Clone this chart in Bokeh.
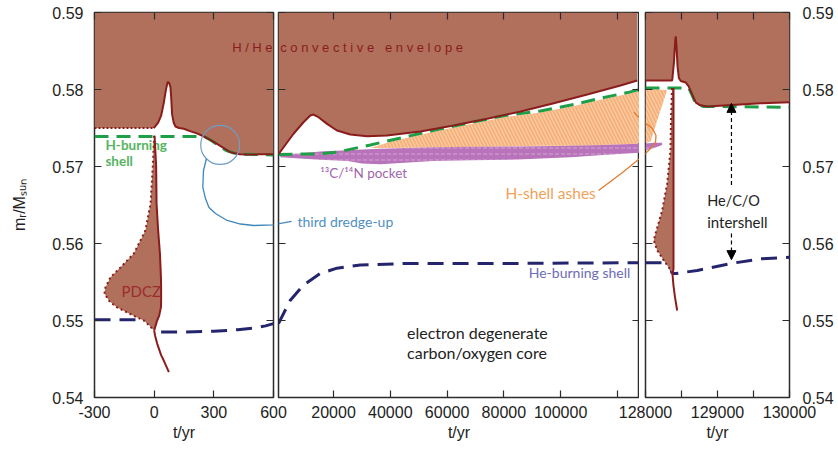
from bokeh.plotting import figure
from bokeh.layouts import row
from bokeh.models import Range1d, FixedTicker, LinearAxis, PrintfTickFormatter, Arrow, NormalHead
from bokeh.embed import file_html
from bokeh.resources import INLINE
from bokeh.core.properties import value

SP = "\u00a0"

# ---------------- axes ----------------
y_min, y_max = 0.54, 0.59
y_ticks = [0.54, 0.55, 0.56, 0.57, 0.58, 0.59]
p1_range = (-300, 600)
p2_range = (600, 127800)
p3_range = (128000, 130000)
p1_xticks = [-300, 0, 300, 600]
p2_xticks = [20000, 40000, 60000, 80000, 100000, 120000]
p3_xticks = [128000, 128500, 129000, 129500, 130000]
p2_tick_overrides = {120000: ""}
p3_tick_overrides = {128500: "", 129500: ""}
x_label = "t/yr"
y_label = "mᵣ/Mₛᵤₙ"

# ---------------- panel 1 : first thermal pulse ----------------
env1_t = [-300, -3, 5, 20, 35, 48, 58, 66, 70, 76, 82, 86, 90, 98, 107, 125, 149, 180, 215, 250,
          280, 300, 330, 350, 380, 400, 430, 470, 530, 600]
env1_m = [0.5750, 0.5750, 0.5752, 0.5757, 0.5766, 0.5782, 0.5798, 0.5808, 0.5810, 0.5808, 0.5803,
          0.5788, 0.5768, 0.5757, 0.5752, 0.5750, 0.5749, 0.5746, 0.5743, 0.5739,
          0.5735, 0.5732, 0.5727, 0.5724, 0.5719, 0.57175, 0.5716, 0.57155, 0.57158, 0.5716]
h1_t = [-300, 250, 280, 320, 360, 400, 440, 600]
h1_m = [0.5739, 0.5739, 0.5735, 0.5728, 0.5721, 0.57175, 0.5716, 0.5715]
he1_t = [-300, -15, 2, 10, 150, 300, 420, 500, 560, 600]
he1_m = [0.5501, 0.5501, 0.5488, 0.5485, 0.5485, 0.5486, 0.5488, 0.5490, 0.5493, 0.5496]
pd1_m = [0.5740, 0.5700, 0.5652, 0.5617, 0.5587, 0.5569, 0.5556, 0.5543, 0.5535, 0.5525,
         0.5517, 0.5506, 0.5500, 0.5494, 0.5487]
pd1_left = [0, -7, -18, -44, -102, -169, -220, -245, -250, -225, -186, -102, -52, -27, 0]
pd1_right = [2, 10, 12, 20, 29, 32, 34, 35, 35, 35, 34, 25, 15, 8, 0]
tail1_t = [0, 5, 15, 35, 50, 74]
tail1_m = [0.5487, 0.5480, 0.5470, 0.5455, 0.5447, 0.5433]
circle_t, circle_m = [332], [0.5728]
tdu1_t = [263, 248, 244.5, 258, 275, 308, 367, 434, 501, 600, 630]
tdu1_m = [0.57104, 0.56948, 0.56731, 0.56584, 0.56471, 0.56390, 0.56299, 0.56253, 0.56234, 0.56243, 0.56246]

# ---------------- panel 2 : interpulse ----------------
env2_t = [600, 2400, 5900, 9400, 11800, 12900, 14700, 17700, 21200, 25900, 31800, 38800, 50600,
          62300, 74100, 85900, 97600, 109400, 121100, 127000]
env2_m = [0.5716, 0.5725, 0.57425, 0.57575, 0.57662, 0.57675, 0.5764, 0.57554, 0.57468, 0.57416,
          0.57394, 0.57403, 0.57455, 0.57532, 0.5762, 0.57714, 0.57822, 0.57935, 0.58052, 0.58117]
h2_t = [600, 15000, 21200, 33000, 56500, 80000, 92900, 105200, 114400, 123600, 127800]
h2_m = [0.57156, 0.57165, 0.57186, 0.5728, 0.5748, 0.5766, 0.5772, 0.5781, 0.5789, 0.5796, 0.5800]
he2_t = [600, 4700, 9400, 15300, 21200, 29400, 44700, 80000, 123500, 127800]
he2_m = [0.5496, 0.5526, 0.5546, 0.5561, 0.5568, 0.5572, 0.5574, 0.5574, 0.5575, 0.5575]
ash2_t = [33000, 40000, 56500, 80000, 92900, 105200, 114400, 123600, 127800]
ash2_top = [0.5724, 0.5732, 0.5746, 0.5764, 0.5770, 0.5779, 0.5787, 0.5794, 0.5798]
ash2_bot = [0.5724, 0.5724, 0.5725, 0.5726, 0.5727, 0.5727, 0.5728, 0.5729, 0.5730]
poc2_t = [1200, 8000, 15300, 25000, 30000, 36500, 45000, 55000, 68200, 85000, 103500, 115000, 127800]
poc2_top = [0.57156, 0.57170, 0.57195, 0.5721, 0.5722, 0.5723, 0.5724, 0.5725, 0.57255, 0.5726,
            0.5727, 0.5728, 0.57295]
poc2_bot = [0.57121, 0.57105, 0.57087, 0.5707, 0.5704, 0.5703, 0.5705, 0.5707, 0.5708, 0.5709,
            0.5712, 0.5715, 0.5718]
tdu2_t = [0, 5200]
tdu2_m = [0.56251, 0.56286]
lead2a_t = [113361, 117594, 121826, 125706, 128880]
lead2a_m = [0.56688, 0.56805, 0.56922, 0.57039, 0.57136]
lead2b_t = [128880, 127822, 125810]
lead2b_m = [0.57604, 0.5763, 0.57705]

# ---------------- panel 3 : next pulse ----------------
env3_t = [128000, 128371, 128395, 128412, 128420, 128428, 128445, 128463, 128490, 128560, 128600,
          128650, 128700, 128760, 128860, 129200, 129600, 130000]
env3_m = [0.58117, 0.58117, 0.5835, 0.5862, 0.5869, 0.5860, 0.5830, 0.5815, 0.5811, 0.5809, 0.5804,
          0.5793, 0.5783, 0.57795, 0.5778, 0.5780, 0.5782, 0.57835]
h3_t = [128000, 128600, 128650, 128700, 128800, 130000]
h3_m = [0.5802, 0.5802, 0.5792, 0.5781, 0.5778, 0.5777]
he3_t = [128000, 128330, 128372, 128420, 128718, 129181, 129597, 130000]
he3_m = [0.5575, 0.5575, 0.5561, 0.5561, 0.5565, 0.5574, 0.5580, 0.5582]
pd3_m = [0.5802, 0.5760, 0.5721, 0.5678, 0.5643, 0.5613, 0.5604, 0.5591, 0.5578, 0.5567, 0.5560]
pd3_left = [128368, 128354, 128347, 128301, 128232, 128139, 128115, 128163, 128254, 128338, 128375]
pd3_right = [128389, 128389, 128389, 128389, 128389, 128389, 128389, 128389, 128389, 128389, 128375]
tail3_t = [128375, 128389, 128410, 128440]
tail3_m = [0.5560, 0.5545, 0.5530, 0.5513]
ash3_t = [128000, 128070, 128180, 128300]
ash3_top = [0.5800, 0.5800, 0.5800, 0.5799]
ash3_bot = [0.5731, 0.5732, 0.5765, 0.5799]
poc3_t = [128000, 128120, 128230]
poc3_top = [0.5730, 0.5731, 0.5731]
poc3_bot = [0.5721, 0.5724, 0.5728]
lead3_t = [127958, 128000, 128083, 128139, 128146, 128097, 128000, 127958]
lead3_m = [0.57136, 0.57169, 0.57247, 0.57316, 0.57403, 0.57494, 0.57565, 0.57604]
arrow_t = 129194
arrow_top, arrow_top_gap = 0.5782, 0.5676
arrow_bot, arrow_bot_gap = 0.5579, 0.5613

# ---------------- styles ----------------
BROWN = "#b0705c"
DARKRED = "#8b1c1c"
GREEN = "#1f9e48"
NAVY = "#25256e"
ORANGE = "#f6b27a"
PURPLE = "#b873ba"
FRAME = "#2b2b2b"
H = 446


def base_fig(xr, width, bl, br, margin):
    p = figure(width=width, height=H, x_range=Range1d(*xr), y_range=Range1d(y_min, y_max),
               output_backend="svg", toolbar_location=None,
               x_axis_location=None, y_axis_location=None,
               min_border_left=bl, min_border_right=br, min_border_top=12, min_border_bottom=49,
               background_fill_color=None, border_fill_color=None,
               outline_line_color=FRAME, outline_line_width=1.5, margin=margin)
    p.grid.visible = False
    return p


def add_axis(p, side, ticks, labels=False, fmt="%d", overrides=None, label=None,
             standoff=8, label_standoff=3):
    ax = LinearAxis(ticker=FixedTicker(ticks=ticks), formatter=PrintfTickFormatter(format=fmt),
                    major_tick_in=7, major_tick_out=0, minor_tick_in=0, minor_tick_out=0,
                    axis_line_color=None, major_tick_line_color=FRAME, major_tick_line_width=1.2,
                    major_label_text_font="Liberation Sans",
                    major_label_text_font_size="16px" if labels else "0px",
                    major_label_text_color="#222222" if labels else None,
                    major_label_standoff=standoff if labels else 0)
    if overrides:
        ax.major_label_overrides = overrides
    if label:
        ax.axis_label = label
        ax.axis_label_text_font = "Liberation Sans"
        ax.axis_label_text_font_size = "16px"
        ax.axis_label_text_font_style = "normal"
        ax.axis_label_text_color = "#222222"
        ax.axis_label_standoff = label_standoff
    p.add_layout(ax, side)
    return ax


def txt(p, x, y, s, color, size, font="Lato", style="normal", align="left"):
    p.text(x=[x], y=[y], text=[s], text_color=color, text_font=value(font),
           text_font_size=size, text_font_style=style, text_align=align, text_baseline="middle")


# ================= panel 1 =================
p1 = base_fig(p1_range, 298, 94, 25, 0)
add_axis(p1, "below", p1_xticks, labels=True, label=x_label)
add_axis(p1, "above", p1_xticks)
add_axis(p1, "left", y_ticks, labels=True, fmt="%.2f", label=y_label, standoff=11, label_standoff=21)
add_axis(p1, "right", y_ticks, fmt="%.2f")

p1.varea(x=env1_t, y1=env1_m, y2=y_max, fill_color=BROWN)
p1.line(h1_t, h1_m, line_color=GREEN, line_width=3, line_dash="14 8")
p1.line(he1_t, he1_m, line_color=NAVY, line_width=3, line_dash="16 9")
txt(p1, -245, 0.57273, "H-burning", "#55b560", "13.5px", style="bold")
txt(p1, -245, 0.57065, "shell", "#55b560", "13.5px", style="bold")
p1.harea(x1=pd1_left, x2=pd1_right, y=pd1_m, fill_color=BROWN)
p1.line(pd1_left, pd1_m, line_color=DARKRED, line_width=2, line_dash="2 3")
p1.line(pd1_right, pd1_m, line_color=DARKRED, line_width=2)
p1.line(tail1_t, tail1_m, line_color=DARKRED, line_width=2)
p1.line(env1_t[:2], env1_m[:2], line_color=DARKRED, line_width=2, line_dash="2 2")
p1.line(env1_t[1:], env1_m[1:], line_color=DARKRED, line_width=2)
p1.scatter(circle_t, circle_m, marker="circle", size=39, fill_color=None,
           line_color="#6d9ec6", line_width=1.2)
p1.line(tdu1_t, tdu1_m, line_color="#3f86bd", line_width=1.3)
txt(p1, 392, 0.58545, "H / H e", "#8b1c1c", "13px", font="Liberation Sans")
txt(p1, -164, 0.55377, "PDCZ", "#9b2d2d", "15px")

# ================= panel 2 =================
p2 = base_fig(p2_range, 366, 5, 0, (0, 0, 0, -25))
add_axis(p2, "below", p2_xticks, labels=True, label=x_label, overrides=p2_tick_overrides)
add_axis(p2, "above", p2_xticks)
add_axis(p2, "left", y_ticks)
add_axis(p2, "right", y_ticks)

p2.varea(x=env2_t, y1=env2_m, y2=y_max, fill_color=BROWN)
p2.varea(x=ash2_t, y1=ash2_bot, y2=ash2_top, fill_color=ORANGE, hatch_pattern="left_diagonal_line",
         hatch_color="white", hatch_alpha=0.45, hatch_scale=7, hatch_weight=1)
p2.varea(x=poc2_t, y1=poc2_bot, y2=poc2_top, fill_color=PURPLE, hatch_pattern="horizontal_dash",
         hatch_color="white", hatch_alpha=0.35, hatch_scale=6, hatch_weight=1)
p2.line(h2_t, h2_m, line_color=GREEN, line_width=3, line_dash="14 8")
p2.line(he2_t, he2_m, line_color=NAVY, line_width=3, line_dash="16 9")
p2.line(env2_t, env2_m, line_color=DARKRED, line_width=2)
p2.line(tdu2_t, tdu2_m, line_color="#3f86bd", line_width=1.3)
p2.line(lead2a_t, lead2a_m, line_color="#e07b30", line_width=1.3)
p2.line(lead2b_t, lead2b_m, line_color="#e07b30", line_width=1.3)
envelope_text = " ".join("convective") + SP * 3 + " ".join("envelope")
txt(p2, 1200, 0.58545, envelope_text, "#8b1c1c", "13px", font="Liberation Sans")
txt(p2, 7300, 0.56286, "third dredge-up", "#4f8fc0", "14px")
txt(p2, 15300, 0.56913, "¹³C/¹⁴N pocket", "#a066aa", "13.5px")
txt(p2, 80560, 0.56662, "H-shell ashes", "#f2a15a", "15.5px")
txt(p2, 88780, 0.55627, "He-burning shell", "#6c6cb4", "14px")
txt(p2, 45890, 0.54848, "electron degenerate", "#222222", "16px")
txt(p2, 45890, 0.54588, "carbon/oxygen core", "#222222", "16px")

# ================= panel 3 =================
p3 = base_fig(p3_range, 221, 30, 47, (0, 0, 0, -24))
add_axis(p3, "below", p3_xticks, labels=True, label=x_label, overrides=p3_tick_overrides)
add_axis(p3, "above", p3_xticks)
add_axis(p3, "left", y_ticks)
add_axis(p3, "right", y_ticks, labels=True, fmt="%.2f", standoff=13)

p3.varea(x=env3_t, y1=env3_m, y2=y_max, fill_color=BROWN)
p3.varea(x=ash3_t, y1=ash3_bot, y2=ash3_top, fill_color=ORANGE, hatch_pattern="left_diagonal_line",
         hatch_color="white", hatch_alpha=0.45, hatch_scale=7, hatch_weight=1)
p3.varea(x=poc3_t, y1=poc3_bot, y2=poc3_top, fill_color=PURPLE, hatch_pattern="horizontal_dash",
         hatch_color="white", hatch_alpha=0.35, hatch_scale=6, hatch_weight=1)
p3.line(h3_t, h3_m, line_color=GREEN, line_width=3, line_dash="14 8")
p3.line(he3_t, he3_m, line_color=NAVY, line_width=3, line_dash="16 9")
p3.harea(x1=pd3_left, x2=pd3_right, y=pd3_m, fill_color=BROWN)
p3.line(pd3_left, pd3_m, line_color=DARKRED, line_width=2, line_dash="2 3")
p3.line(pd3_right, pd3_m, line_color=DARKRED, line_width=2)
p3.line(tail3_t, tail3_m, line_color=DARKRED, line_width=2)
p3.line(env3_t, env3_m, line_color=DARKRED, line_width=2)
p3.line(lead3_t, lead3_m, line_color="#e07b30", line_width=1.3)
head_kw = dict(size=9, fill_color="black", line_color="black")
p3.add_layout(Arrow(end=NormalHead(**head_kw), x_start=arrow_t, y_start=arrow_top_gap,
                    x_end=arrow_t, y_end=arrow_top, line_dash="4 3", line_width=1.2, line_color="black"))
p3.add_layout(Arrow(end=NormalHead(**head_kw), x_start=arrow_t, y_start=arrow_bot_gap,
                    x_end=arrow_t, y_end=arrow_bot, line_dash="4 3", line_width=1.2, line_color="black"))
txt(p3, 128857, 0.56558, "He/C/O", "#222222", "14.5px")
txt(p3, 128857, 0.56277, "intershell", "#222222", "15px")

layout = row(p1, p2, p3)
open("out.html", "w").write(file_html(layout, INLINE))
